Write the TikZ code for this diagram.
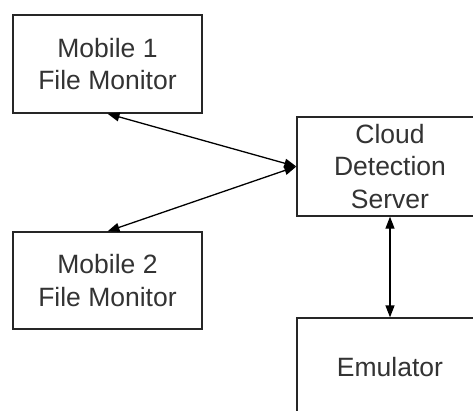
\documentclass[tikz,border=0pt]{standalone}
\usepackage{fontspec}
\setmainfont{Liberation Sans}
\usetikzlibrary{arrows.meta}
\begin{document}
\begin{tikzpicture}[x=1pt,y=-1pt,
  box/.style={draw=black!85, line width=1.3pt, fill=white, rectangle,
    inner sep=0pt, align=center, text=black!80,
    font=\fontsize{26.5}{32.5}\selectfont},
  link/.style={line width=1.3pt, draw=black,
    {Triangle[length=12pt,width=9pt]}-{Triangle[length=12pt,width=9pt]}}]
  \useasboundingbox (0,0) rectangle (473,410);
  \clip (0,0) rectangle (473,410);
  % client-side monitors
  \node[box, minimum width=189pt, minimum height=98pt] (m1) at (107.5,64)
    {Mobile 1\\File Monitor};
  \node[box, minimum width=189pt, minimum height=97pt] (m2) at (107.5,280.5)
    {Mobile 2\\File Monitor};
  % server side
  \node[box, minimum width=186pt, minimum height=99pt] (cds) at (390,166.5)
    {Cloud\\Detection\\Server};
  \node[box, minimum width=186pt, minimum height=99pt] (emu) at (390,367.5)
    {Emulator};
  % connections
  \draw[link] (m1.south) -- (cds.west);
  \draw[link] (m2.north) -- (cds.west);
  \draw[link] (cds.south) -- (emu.north);
\end{tikzpicture}
\end{document}
